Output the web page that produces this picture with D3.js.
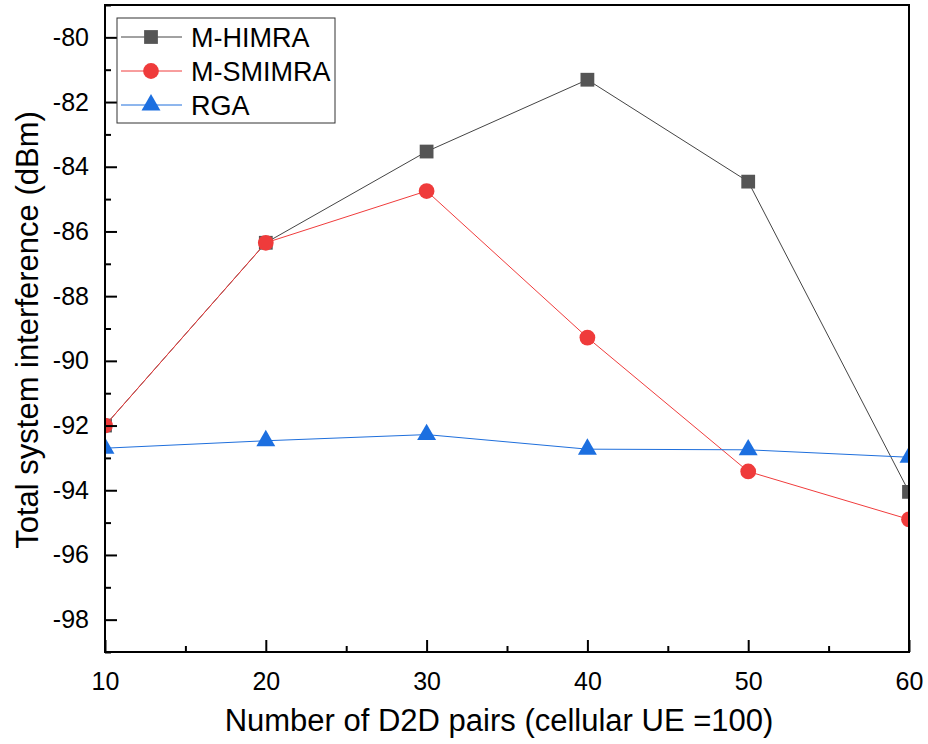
<!DOCTYPE html>
<html><head><meta charset="utf-8">
<script src="https://cdn.jsdelivr.net/npm/d3@7"></script>
<style>body{margin:0;background:#fff}svg{display:block}text{font-family:"Liberation Sans",Arial,sans-serif}</style>
</head><body>
<svg id="c" width="928" height="744"></svg>
<script>
const xValues = [10, 20, 30, 40, 50, 60];
const himra = [-92.0, -86.35, -83.53, -81.31, -84.46, -94.05];
const smimra = [-92.0, -86.35, -84.75, -89.28, -93.42, -94.9];
const rga = [-92.7, -92.47, -92.28, -92.73, -92.75, -92.98];
const seriesNames = ["M-HIMRA", "M-SMIMRA", "RGA"];
const xTicks = [10, 20, 30, 40, 50, 60];
const yTicks = [-98, -96, -94, -92, -90, -88, -86, -84, -82, -80];

const svg = d3.select("#c");
const L = 105, R = 909, T = 5, B = 652;
const x = d3.scaleLinear().domain([10, 60]).range([L, R]);
const y = d3.scaleLinear().domain([-99, -79]).range([B, T]);

svg.append("defs").append("clipPath").attr("id","clip").append("rect")
  .attr("x", L).attr("y", T).attr("width", R-L).attr("height", B-T);

const series = [
  {name: seriesNames[0], vals: himra, line: "#444", fill: "#555555", sym: d3.symbolSquare, size: 190},
  {name: seriesNames[1], vals: smimra, line: "#f03c3c", fill: "#ef3b3b", sym: d3.symbolCircle, size: 195},
  {name: seriesNames[2], vals: rga, line: "#1f6fdc", fill: "#1c6fe0", sym: d3.symbolTriangle, size: 155}
];

const g = svg.append("g").attr("clip-path", "url(#clip)");
series.forEach(s => {
  const pts = xValues.map((xv, i) => [xv, s.vals[i]]);
  g.append("path").datum(pts)
    .attr("d", d3.line().x(d => x(d[0])).y(d => y(d[1])))
    .attr("fill", "none").attr("stroke", s.line).attr("stroke-width", 1);
  g.selectAll(null).data(pts).enter().append("path")
    .attr("d", d3.symbol().type(s.sym).size(s.size))
    .attr("transform", d => `translate(${x(d[0])},${y(d[1])})`)
    .attr("fill", s.fill);
});

// axes
const fs = 25;
const yAxis = d3.axisLeft(y).tickValues(yTicks).tickSizeInner(-12).tickSizeOuter(0).tickPadding(16)
  .tickFormat(d => d3.format("d")(d).replace("−","-"));
const ya = svg.append("g").attr("transform", `translate(${L},0)`).call(yAxis);
ya.selectAll("text").attr("font-size", fs).attr("fill", "#000").attr("dx", 0);
ya.selectAll("line").attr("stroke-width", 2).attr("stroke", "#000");
ya.select(".domain").remove();
const yMinor = d3.axisLeft(y).tickValues(d3.range(-99, -78, 2)).tickSizeInner(-6).tickSizeOuter(0).tickFormat("");
const ym = svg.append("g").attr("transform", `translate(${L},0)`).call(yMinor);
ym.selectAll("line").attr("stroke-width", 2).attr("stroke", "#000");
ym.select(".domain").remove();

const xAxis = d3.axisBottom(x).tickValues(xTicks).tickSizeInner(-12).tickSizeOuter(0).tickPadding(20);
const xa = svg.append("g").attr("transform", `translate(0,${B})`).call(xAxis);
xa.selectAll("text").attr("font-size", fs).attr("fill", "#000");
xa.selectAll("line").attr("stroke-width", 2).attr("stroke", "#000");
xa.select(".domain").remove();
const xMinor = d3.axisBottom(x).tickValues([15, 25, 35, 45, 55]).tickSizeInner(-6).tickSizeOuter(0).tickFormat("");
const xm = svg.append("g").attr("transform", `translate(0,${B})`).call(xMinor);
xm.selectAll("line").attr("stroke-width", 2).attr("stroke", "#000");
xm.select(".domain").remove();

// frame
svg.append("rect").attr("x", L).attr("y", T).attr("width", R-L).attr("height", B-T)
  .attr("fill", "none").attr("stroke", "#000").attr("stroke-width", 2);

// titles
svg.append("text").attr("x", 499).attr("y", 731).attr("text-anchor", "middle")
  .attr("font-size", 31).text("Number of D2D pairs (cellular UE =100)");
svg.append("text").attr("transform", "translate(38,330) rotate(-90)").attr("text-anchor", "middle")
  .attr("font-size", 31).text("Total system interference (dBm)");

// legend
const lg = svg.append("g");
lg.append("rect").attr("x", 117).attr("y", 18).attr("width", 218).attr("height", 105)
  .attr("fill", "#fff").attr("stroke", "#333").attr("stroke-width", 1);
series.forEach((s, i) => {
  const cy = 37 + i * 34;
  lg.append("line").attr("x1", 121).attr("x2", 182).attr("y1", cy).attr("y2", cy)
    .attr("stroke", s.line).attr("stroke-width", 1);
  lg.append("path").attr("d", d3.symbol().type(s.sym).size(s.size))
    .attr("transform", `translate(151,${cy})`).attr("fill", s.fill);
  lg.append("text").attr("x", 191).attr("y", cy + 10).attr("font-size", 27).text(s.name);
});
</script>
</body></html>
